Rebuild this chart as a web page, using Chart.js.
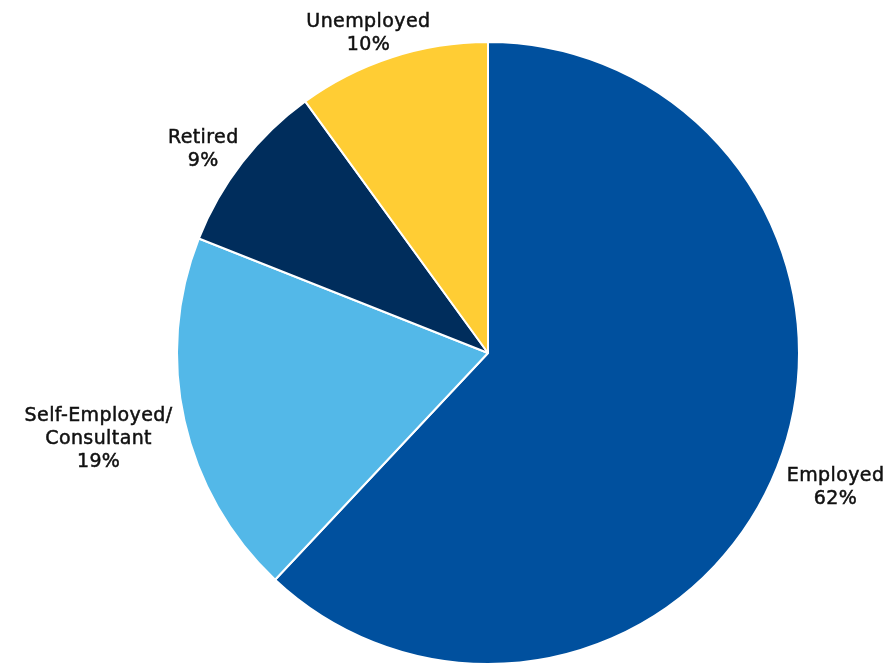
<!DOCTYPE html>
<html>
<head>
<meta charset="utf-8">
<script src="https://cdn.jsdelivr.net/npm/chart.js@4"></script>
<style>
  html, body { margin: 0; padding: 0; background: #fff; }
  #wrap { width: 895px; height: 665px; }
</style>
</head>
<body>
<div id="wrap"><canvas id="statusChart" width="895" height="665"></canvas></div>
<script>
// Employment status shares, clockwise from 12 o'clock
const categories = ['Employed', 'Self-Employed/\nConsultant', 'Retired', 'Unemployed'];
const shares = [62, 19, 9, 10];
const sliceColors = ['#00509E', '#53B8E8', '#002D5C', '#FFCD34'];

const LABEL_FONT = '19px "DejaVu Sans"';
const LINE_HEIGHT = 23;

// Draw "name / percent" labels just outside each slice
const outsideLabels = {
  id: 'outsideLabels',
  afterDatasetsDraw(chart) {
    const { ctx } = chart;
    const meta = chart.getDatasetMeta(0);
    ctx.save();
    ctx.font = LABEL_FONT;
    ctx.letterSpacing = '0.4px';
    ctx.fillStyle = '#111';
    ctx.strokeStyle = '#111';
    ctx.lineWidth = 0.5;
    ctx.textAlign = 'center';
    ctx.textBaseline = 'middle';
    meta.data.forEach((arc, i) => {
      const lines = categories[i].split('\n').concat(shares[i] + '%');
      const mid = (arc.startAngle + arc.endAngle) / 2;
      const dist = arc.outerRadius + 14;
      const ax = arc.x + Math.cos(mid) * dist;
      const ay = arc.y + Math.sin(mid) * dist + 8;
      const w = Math.max(...lines.map(l => ctx.measureText(l).width));
      const h = (lines.length - 1) * LINE_HEIGHT + 16;
      const cx = ax + Math.cos(mid) * w / 2;
      const cy = ay + Math.sin(mid) * h / 2;
      lines.forEach((line, k) => {
        const ly = cy - (lines.length - 1) * LINE_HEIGHT / 2 + LINE_HEIGHT * k;
        ctx.fillText(line, cx, ly);
        ctx.strokeText(line, cx, ly);
      });
    });
    ctx.restore();
  }
};

new Chart(document.getElementById('statusChart'), {
  type: 'pie',
  data: {
    labels: categories,
    datasets: [{
      data: shares,
      backgroundColor: sliceColors,
      borderColor: '#ffffff',
      borderWidth: 2,
      hoverOffset: 0
    }]
  },
  options: {
    responsive: false,
    animation: false,
    radius: 311,
    layout: { padding: { left: 177, right: 96, top: 42, bottom: 1 } },
    plugins: {
      legend: { display: false },
      tooltip: { enabled: false }
    }
  },
  plugins: [outsideLabels]
});
</script>
</body>
</html>
